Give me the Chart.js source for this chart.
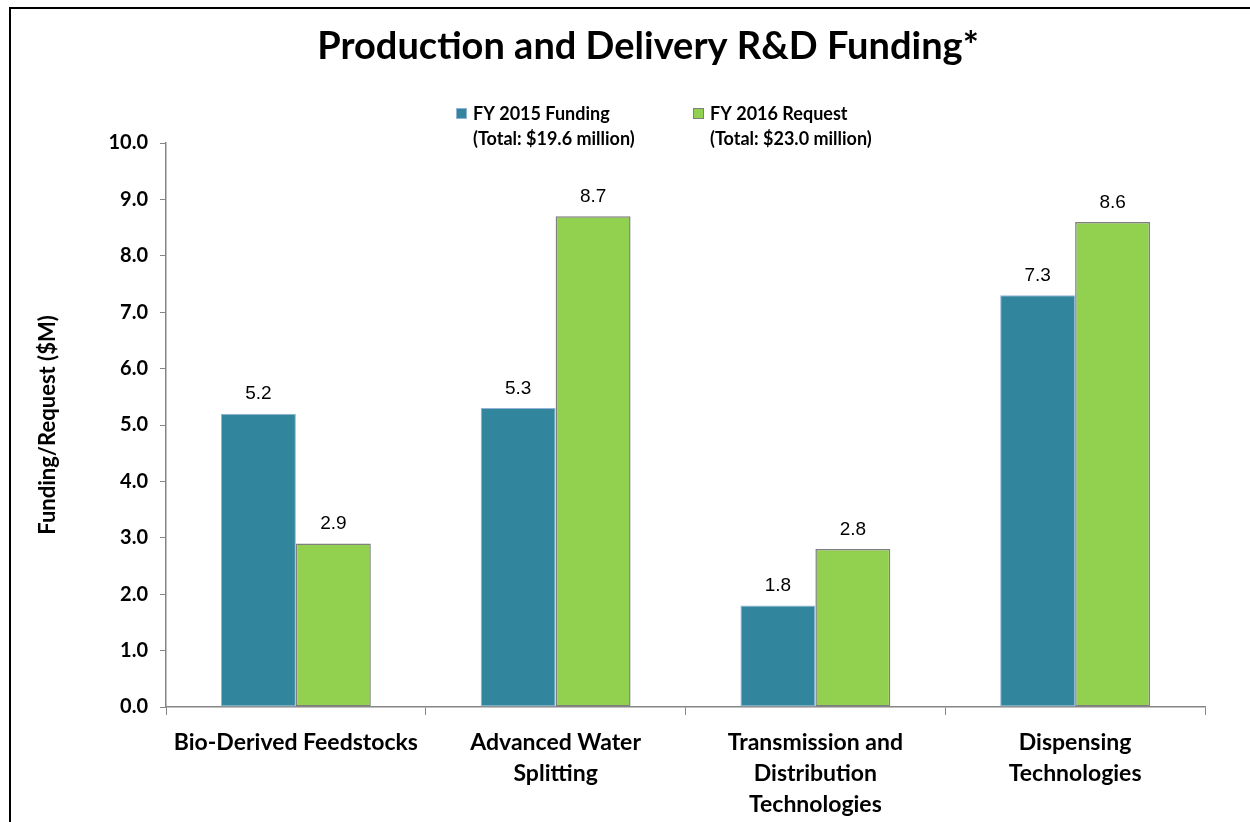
<!DOCTYPE html>
<html>
<head>
<meta charset="utf-8">
<script src="https://cdn.jsdelivr.net/npm/chart.js@4"></script>
<style>
  html, body { margin: 0; padding: 0; background: #fff; }
  #wrap { position: relative; width: 1250px; height: 822px; overflow: hidden; }
  #frame { position: absolute; left: 9px; top: 7px; right: -10px; bottom: -10px;
           border-left: 2px solid #000; border-top: 2px solid #000; pointer-events: none; }
  canvas { position: absolute; left: 0; top: 0; }
</style>
</head>
<body>
<div id="wrap">
  <canvas id="fundingChart" width="1250" height="822"></canvas>
  <div id="frame"></div>
</div>
<script>
// chart data
const categories = [
    ['Bio-Derived Feedstocks'],
    ['Advanced Water', 'Splitting'],
    ['Transmission and', 'Distribution', 'Technologies'],
    ['Dispensing', 'Technologies'],
];
const fy2015 = [5.2, 5.3, 1.8, 7.3];
const fy2016 = [2.9, 8.7, 2.8, 8.6];
const seriesNames = ['FY 2015 Funding', 'FY 2016 Request'];
const seriesTotals = ['(Total: $19.6 million)', '(Total: $23.0 million)'];
const yTickMin = 0;
const yTickMax = 10;
const yTickStep = 1;

const chartTitle = 'Production and Delivery R&D Funding*';
const yTitle = 'Funding/Request ($M)';

const BLUE = '#31859C';
const GREEN = '#92D050';
const AXIS = '#868686';

// title, two-line legend and value labels
const extras = {
    id: 'extras',
    afterDraw(chart) {
        const ctx = chart.ctx;
        ctx.save();

        // title
        ctx.fillStyle = '#000';
        ctx.font = 'bold 38px Lato';
        ctx.textAlign = 'center';
        ctx.textBaseline = 'middle';
        ctx.fillText(chartTitle, 648, 47);

        // legend
        const legendX = [456, 693];
        ctx.font = 'bold 18px Lato';
        ctx.textAlign = 'left';
        chart.data.datasets.forEach((ds, i) => {
            const x = legendX[i];
            ctx.fillStyle = ds.backgroundColor;
            ctx.fillRect(x, 108, 11, 11);
            ctx.strokeStyle = ds.borderColor;
            ctx.lineWidth = 1;
            ctx.strokeRect(x + 0.5, 108.5, 10, 10);
            ctx.fillStyle = '#000';
            ctx.fillText(seriesNames[i], x + 17, 114);
            ctx.fillText(seriesTotals[i], x + 17, 139);
        });

        // data labels
        ctx.font = '19px "Liberation Sans"';
        ctx.textAlign = 'center';
        ctx.textBaseline = 'bottom';
        ctx.fillStyle = '#000';
        chart.data.datasets.forEach((ds, i) => {
            chart.getDatasetMeta(i).data.forEach((bar, j) => {
                ctx.fillText(ds.data[j].toFixed(1), bar.x, bar.y - 10);
            });
        });

        ctx.restore();
    },
};

new Chart(document.getElementById('fundingChart'), {
    type: 'bar',
    data: {
        labels: categories,
        datasets: [
            {
                label: seriesNames[0],
                data: fy2015,
                backgroundColor: BLUE,
                borderColor: '#95B3D7',
                borderWidth: 1,
                borderSkipped: false,
            },
            {
                label: seriesNames[1],
                data: fy2016,
                backgroundColor: GREEN,
                borderColor: '#7F7F7F',
                borderWidth: 1.5,
                borderSkipped: false,
            },
        ],
    },
    options: {
        responsive: false,
        animation: false,
        devicePixelRatio: 1,
        layout: {
            padding: { top: 143, right: 45, bottom: 0, left: 0 },
        },
        datasets: {
            bar: {
                categoryPercentage: 0.577,
                barPercentage: 1.0,
            },
        },
        plugins: {
            legend: { display: false },
            title: { display: false },
            tooltip: { enabled: false },
        },
        scales: {
            x: {
                grid: {
                    display: true,
                    offset: true,
                    drawOnChartArea: false,
                    drawTicks: true,
                    tickLength: 8,
                    color: AXIS,
                },
                border: { display: true, color: AXIS, width: 1.5 },
                ticks: {
                    color: '#000',
                    padding: 12,
                    maxRotation: 0,
                    autoSkip: false,
                    font: { family: 'Lato', size: 23, weight: 'bold', lineHeight: 1.35 },
                },
                afterFit(scale) { scale.height = 115; },
            },
            y: {
                min: yTickMin,
                max: yTickMax,
                ticks: {
                    stepSize: yTickStep,
                    color: '#000',
                    padding: 12,
                    font: { family: 'Lato', size: 20, weight: 'bold' },
                    callback: v => v.toFixed(1),
                },
                grid: {
                    display: true,
                    drawOnChartArea: false,
                    drawTicks: true,
                    tickLength: 6,
                    color: AXIS,
                },
                border: { display: true, color: AXIS, width: 1.5 },
                title: {
                    display: true,
                    text: yTitle,
                    color: '#000',
                    font: { family: 'Lato', size: 22, weight: 'bold', lineHeight: 1.2 },
                    padding: { top: 35, bottom: 0 },
                },
                afterFit(scale) { scale.width = 166; },
            },
        },
    },
    plugins: [extras],
});
</script>
</body>
</html>
